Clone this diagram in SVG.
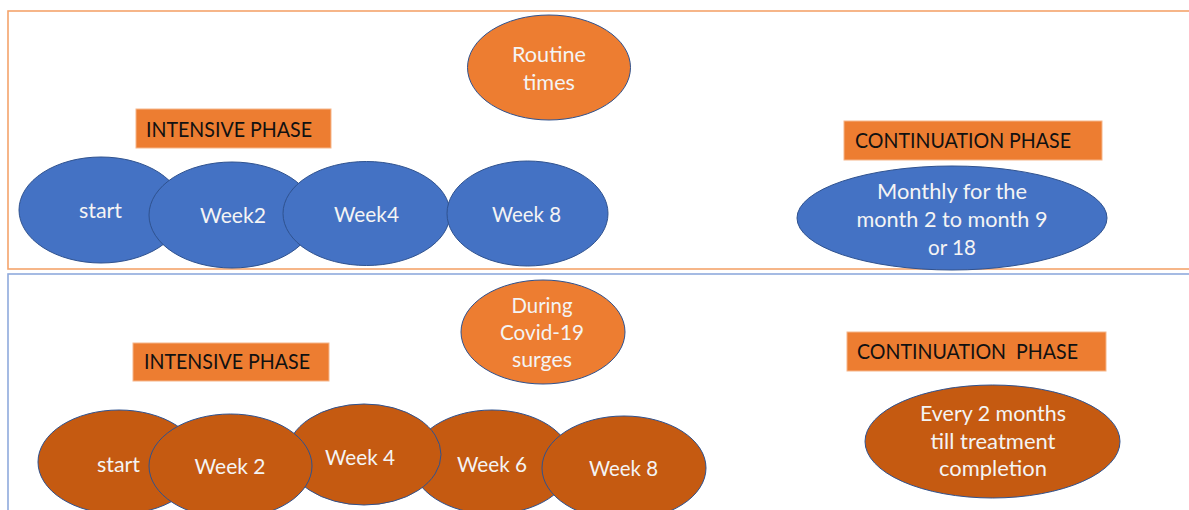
<svg xmlns="http://www.w3.org/2000/svg" width="1189" height="510" viewBox="0 0 1189 510">
  <style>
    .panel-routine { fill: none; stroke: #F4A46C; stroke-width: 1.6; }
    .panel-covid { fill: none; stroke: #8FAADC; stroke-width: 1.6; }
    .tag { fill: #ED7D31; stroke: #F6B68A; stroke-width: 1; }
    .tag-text { font-family: Lato, "Open Sans", sans-serif; font-size: 21px; fill: #111111; }
    .blue { fill: #4472C4; stroke: #2F528F; stroke-width: 1; }
    .orange { fill: #ED7D31; stroke: #2F528F; stroke-width: 1; }
    .brown { fill: #C55A11; stroke: #2F528F; stroke-width: 1; }
    .label { font-family: Lato, "Open Sans", sans-serif; font-size: 21px; fill: #F4F4F4; text-anchor: middle; }
  </style>

  <rect width="1189" height="510" fill="#FFFFFF"/>

  <!-- two schedule panels -->
  <g id="panels">
    <rect class="panel-routine" x="8" y="11" width="1200" height="258"/>
    <rect class="panel-covid" x="8" y="274" width="1200" height="260"/>
  </g>

  <!-- connectors: none in this figure -->
  <g id="connectors"/>

  <!-- ===== Routine times panel ===== -->
  <g id="routine-times">
    <ellipse class="orange" cx="549" cy="67.5" rx="81.5" ry="52.5"/>
    <text class="label" x="549" y="62" textLength="74" lengthAdjust="spacingAndGlyphs">Routine</text>
    <text class="label" x="549" y="90" textLength="52" lengthAdjust="spacingAndGlyphs">times</text>
  </g>

  <g id="routine-intensive-tag">
    <rect class="tag" x="136" y="109" width="195" height="39"/>
    <text class="tag-text" x="146" y="137" textLength="166" lengthAdjust="spacingAndGlyphs">INTENSIVE PHASE</text>
  </g>

  <g id="routine-start">
    <ellipse class="blue" cx="101" cy="210" rx="82" ry="53"/>
    <text class="label" x="100.5" y="218" textLength="43" lengthAdjust="spacingAndGlyphs">start</text>
  </g>
  <g id="routine-week2">
    <ellipse class="blue" cx="232" cy="215" rx="83" ry="53"/>
    <text class="label" x="233" y="222.5" textLength="66" lengthAdjust="spacingAndGlyphs">Week2</text>
  </g>
  <g id="routine-week4">
    <ellipse class="blue" cx="366.5" cy="213.5" rx="83.5" ry="52"/>
    <text class="label" x="366.5" y="222" textLength="65" lengthAdjust="spacingAndGlyphs">Week4</text>
  </g>
  <g id="routine-week8">
    <ellipse class="blue" cx="527.5" cy="213.5" rx="80.5" ry="52.5"/>
    <text class="label" x="526.5" y="221.5" textLength="69" lengthAdjust="spacingAndGlyphs">Week 8</text>
  </g>

  <g id="routine-continuation-tag">
    <rect class="tag" x="844" y="121" width="258" height="39"/>
    <text class="tag-text" x="855" y="147.5" textLength="216" lengthAdjust="spacingAndGlyphs">CONTINUATION PHASE</text>
  </g>

  <g id="routine-monthly">
    <ellipse class="blue" cx="952" cy="218" rx="155" ry="52"/>
    <text class="label" x="952" y="199" textLength="150" lengthAdjust="spacingAndGlyphs">Monthly for the</text>
    <text class="label" x="952" y="227" textLength="191" lengthAdjust="spacingAndGlyphs">month 2 to month 9</text>
    <text class="label" x="952" y="255" textLength="48" lengthAdjust="spacingAndGlyphs">or 18</text>
  </g>

  <!-- ===== Covid-19 surge panel ===== -->
  <g id="covid-surges">
    <ellipse class="orange" cx="543" cy="332" rx="82" ry="52"/>
    <text class="label" x="542" y="313" textLength="61" lengthAdjust="spacingAndGlyphs">During</text>
    <text class="label" x="542" y="340" textLength="84" lengthAdjust="spacingAndGlyphs">Covid-19</text>
    <text class="label" x="542" y="367" textLength="60" lengthAdjust="spacingAndGlyphs">surges</text>
  </g>

  <g id="covid-intensive-tag">
    <rect class="tag" x="133" y="343" width="196" height="38"/>
    <text class="tag-text" x="144" y="369" textLength="166" lengthAdjust="spacingAndGlyphs">INTENSIVE PHASE</text>
  </g>

  <g id="covid-week6">
    <ellipse class="brown" cx="492" cy="462" rx="80" ry="52"/>
    <text class="label" x="492" y="472" textLength="70" lengthAdjust="spacingAndGlyphs">Week 6</text>
  </g>
  <g id="covid-week4">
    <ellipse class="brown" cx="364" cy="454.5" rx="77" ry="50.5"/>
    <text class="label" x="360" y="465" textLength="70" lengthAdjust="spacingAndGlyphs">Week 4</text>
  </g>
  <g id="covid-start">
    <ellipse class="brown" cx="119" cy="462" rx="81" ry="52"/>
    <text class="label" x="118.5" y="472" textLength="43" lengthAdjust="spacingAndGlyphs">start</text>
  </g>
  <g id="covid-week2">
    <ellipse class="brown" cx="230.5" cy="466" rx="81.5" ry="52"/>
    <text class="label" x="230" y="474" textLength="71" lengthAdjust="spacingAndGlyphs">Week 2</text>
  </g>
  <g id="covid-week8">
    <ellipse class="brown" cx="624" cy="468" rx="82" ry="52"/>
    <text class="label" x="623.5" y="476" textLength="69" lengthAdjust="spacingAndGlyphs">Week 8</text>
  </g>

  <g id="covid-continuation-tag">
    <rect class="tag" x="847" y="332" width="259" height="39"/>
    <text class="tag-text" x="857" y="359" textLength="221" lengthAdjust="spacingAndGlyphs" xml:space="preserve">CONTINUATION  PHASE</text>
  </g>

  <g id="covid-every-2-months">
    <ellipse class="brown" cx="992.5" cy="441.5" rx="127.5" ry="56.5"/>
    <text class="label" x="993" y="421" textLength="146" lengthAdjust="spacingAndGlyphs">Every 2 months</text>
    <text class="label" x="993" y="449" textLength="125" lengthAdjust="spacingAndGlyphs">till treatment</text>
    <text class="label" x="993" y="476" textLength="108" lengthAdjust="spacingAndGlyphs">completion</text>
  </g>
</svg>
